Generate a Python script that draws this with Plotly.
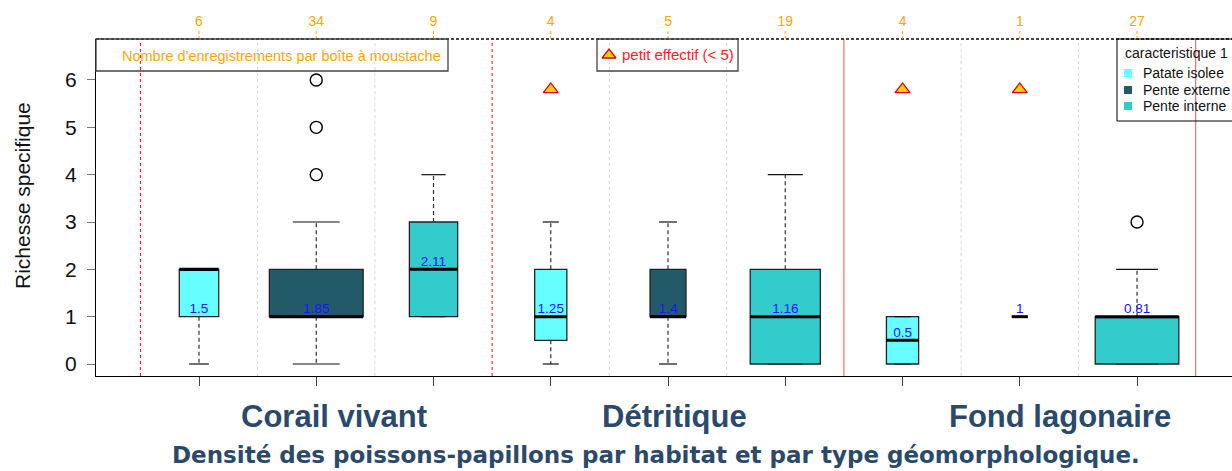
import math
import plotly.graph_objects as go

# ---- data -------------------------------------------------------------
groups = ["Corail vivant", "Détritique", "Fond lagonaire"]
types = ["Patate isolee", "Pente externe", "Pente interne"]
type_colors = ["#66FFFF", "#235A6A", "#33CCCC"]

# one box per (habitat, type), in plotting order
box_group = [0, 0, 0, 1, 1, 1, 2, 2, 2]
box_type = [0, 1, 2, 0, 1, 2, 0, 1, 2]
n_obs = [6, 34, 9, 4, 5, 19, 4, 1, 27]
q1 = [1, 1, 1, 0.5, 1, 0, 0, 1, 0]
median = [2, 1, 2, 1, 1, 1, 0.5, 1, 1]
q3 = [2, 2, 3, 2, 2, 2, 1, 1, 1]
whisker_low = [0, 0, 1, 0, 0, 0, 0, 1, 0]
whisker_high = [2, 3, 4, 3, 3, 4, 1, 1, 2]
outliers = [[], [4, 5, 6], [], [], [], [], [], [], [3]]
means = [1.5, 1.85, 2.11, 1.25, 1.4, 1.16, 0.5, 1, 0.81]
mean_label_base = [1, 1, 2, 1, 1, 1, 0.5, 1, 1]
small_n_limit = 5
y_ticks = [0, 1, 2, 3, 4, 5, 6]

# ---- geometry ---------------------------------------------------------
W, H = 1232, 471
L, R_EDGE, T, B = 96, 1232, 39, 376
X_RANGE = [0.1215, 9.81]
Y_RANGE = [-0.2535, 6.866]
FLAG_Y = 5.8
FONT = "Liberation Sans, Arial, sans-serif"
TITLE_FONT = "DejaVu Sans, Liberation Sans, sans-serif"
TITLE_COLOR = "#2B4A6B"


def px(xp):
    return (xp - L) / (R_EDGE - L)


def py(yp):
    return (B - yp) / (B - T)


def note(text, xp, yp, size, color, xanchor="center", family=FONT, **kw):
    return dict(text=text, xref="paper", yref="paper", x=px(xp), y=py(yp),
                xanchor=xanchor, yanchor="middle", showarrow=False,
                font=dict(family=family, size=size, color=color), **kw)


positions = [i + 1 for i in range(len(n_obs))]
n_max = max(n_obs)
widths = [0.8 * math.sqrt(n / n_max) for n in n_obs]

fig = go.Figure()

# boxes (whiskers drawn separately, dashed)
for i, x in enumerate(positions):
    fig.add_trace(go.Box(
        x=[x], q1=[q1[i]], median=[median[i]], q3=[q3[i]],
        lowerfence=[q1[i]], upperfence=[q3[i]],
        width=widths[i], fillcolor=type_colors[box_type[i]],
        line=dict(color="#222222", width=1.3),
        name=f"{groups[box_group[i]]} - {types[box_type[i]]}",
        showlegend=False, boxpoints=False, hoverinfo="skip",
    ))

# dashed whiskers
wx, wy = [], []
for i, x in enumerate(positions):
    if whisker_high[i] > q3[i]:
        wx += [x, x, None]
        wy += [q3[i], whisker_high[i], None]
    if whisker_low[i] < q1[i]:
        wx += [x, x, None]
        wy += [q1[i], whisker_low[i], None]
fig.add_trace(go.Scatter(x=wx, y=wy, mode="lines", showlegend=False,
                         line=dict(color="#333333", width=1.2, dash="4px,3px"),
                         hoverinfo="skip"))

# whisker caps (half the box width)
cx, cy = [], []
for i, x in enumerate(positions):
    hw = widths[i] / 4
    for v in (whisker_low[i], whisker_high[i]):
        cx += [x - hw, x + hw, None]
        cy += [v, v, None]
fig.add_trace(go.Scatter(x=cx, y=cy, mode="lines", showlegend=False,
                         line=dict(color="#111111", width=1.2), hoverinfo="skip"))

# thick median bars
mx, my = [], []
for i, x in enumerate(positions):
    hw = widths[i] / 2
    mx += [x - hw, x + hw, None]
    my += [median[i], median[i], None]
fig.add_trace(go.Scatter(x=mx, y=my, mode="lines", showlegend=False,
                         line=dict(color="#000000", width=3), hoverinfo="skip"))

# outliers
ox, oy = [], []
for i, x in enumerate(positions):
    for v in outliers[i]:
        ox.append(x)
        oy.append(v)
fig.add_trace(go.Scatter(x=ox, y=oy, mode="markers", showlegend=False,
                         marker=dict(symbol="circle-open", size=12,
                                     color="#000000", line=dict(width=1.4))))

# mean values
fig.add_trace(go.Scatter(
    x=positions, y=mean_label_base, mode="text", showlegend=False,
    text=[f"{m:g}" for m in means], textposition="top center",
    textfont=dict(family=FONT, size=13.5, color="#1515FF"), hoverinfo="skip"))

# small sample warning
tx = [x for x, n in zip(positions, n_obs) if n < small_n_limit]
fig.add_trace(go.Scatter(
    x=tx, y=[FLAG_Y] * len(tx), mode="markers", showlegend=False, cliponaxis=False,
    marker=dict(symbol="triangle-up", size=13, color="#FFCC00",
                line=dict(color="#E00000", width=1.3))))

# warning key marker
fig.add_trace(go.Scatter(
    x=[X_RANGE[0] + (609 - L) / (R_EDGE - L) * (X_RANGE[1] - X_RANGE[0])],
    y=[Y_RANGE[1] - (55 - T) / (B - T) * (Y_RANGE[1] - Y_RANGE[0])],
    mode="markers", showlegend=False, cliponaxis=False,
    marker=dict(symbol="triangle-up", size=12, color="#FFCC00",
                line=dict(color="#E00000", width=1.3))))

# counts on top axis
fig.add_trace(go.Scatter(x=positions, y=[None] * len(positions), xaxis="x2",
                         showlegend=False, hoverinfo="skip"))

shapes = []
# separators between boxes / habitats
for k in range(len(positions) + 1):
    xv = k + 0.5
    if k in (0, 3):
        ln = dict(color="#FF0000", width=1, dash="dot")
    elif k in (6, 9):
        ln = dict(color="#F07878", width=1.3)
    else:
        ln = dict(color="#D6D6D6", width=1, dash="dot")
    shapes.append(dict(type="line", xref="x", yref="paper", x0=xv, x1=xv,
                       y0=0, y1=1, line=ln, layer="below"))

# dashed top frame line
shapes.append(dict(type="line", xref="paper", yref="paper", x0=0, x1=1, y0=1, y1=1,
                   line=dict(color="#444444", width=2, dash="3px,2px")))
# dashed orange ticks on top axis
for x in positions:
    shapes.append(dict(type="line", xref="x", yref="paper", x0=x, x1=x,
                       y0=1, y1=py(29), line=dict(color="#FFA500", width=1, dash="3px,2px")))

# key boxes
shapes.append(dict(type="rect", xref="paper", yref="paper", x0=px(96), x1=px(448),
                   y0=py(71), y1=py(39), line=dict(color="#444444", width=1.3)))
shapes.append(dict(type="rect", xref="paper", yref="paper", x0=px(597), x1=px(738),
                   y0=py(71), y1=py(39), line=dict(color="#444444", width=1.3)))
shapes.append(dict(type="rect", xref="paper", yref="paper", x0=px(1117), x1=px(1245),
                   y0=py(121), y1=py(39), fillcolor="rgba(255,255,255,0)",
                   line=dict(color="#000000", width=1)))
legend_rows = [73, 90, 106]
for k, c in enumerate(type_colors):
    shapes.append(dict(type="rect", xref="paper", yref="paper",
                       x0=px(1124), x1=px(1132), y0=py(legend_rows[k] + 4),
                       y1=py(legend_rows[k] - 4), fillcolor=c, line=dict(width=0)))

annotations = [
    note("Nombre d'enregistrements par boîte à moustache", 281, 56, 14.5, "#FFA500"),
    note("petit effectif (< 5)", 620, 55, 15, "#FF2020", xanchor="left"),
    note("caracteristique 1", 1123, 53, 14, "#111111", xanchor="left"),
    note("Richesse specifique", 22, 196, 21, "#111111", textangle=-90),
    note("<b>Densité des poissons-papillons par habitat et par type géomorphologique.</b>",
         656, 455, 23, TITLE_COLOR, family=TITLE_FONT),
]
for k, t in enumerate(types):
    annotations.append(note(t, 1141, legend_rows[k], 14, "#111111", xanchor="left"))
group_label_px = [334, 674, 1060]
for g, xp in zip(groups, group_label_px):
    annotations.append(note(f"<b>{g}</b>", xp, 416, 31, TITLE_COLOR))

fig.update_layout(
    width=W, height=H, margin=dict(l=L, r=W - R_EDGE, t=T, b=H - B),
    paper_bgcolor="white", plot_bgcolor="white", boxmode="overlay",
    font=dict(family=FONT), shapes=shapes, annotations=annotations,
    xaxis=dict(range=X_RANGE, tickvals=positions, ticktext=[""] * len(positions),
               ticks="outside", ticklen=9, tickcolor="#444444", showgrid=False,
               zeroline=False, showline=True, linecolor="#000000", linewidth=1.3),
    xaxis2=dict(range=X_RANGE, overlaying="x", side="top", tickvals=positions,
                ticktext=[str(n) for n in n_obs], ticks="outside", ticklen=6,
                tickcolor="rgba(0,0,0,0)", showgrid=False, zeroline=False,
                showline=False, tickfont=dict(family=FONT, size=14, color="#FFA500")),
    yaxis=dict(range=Y_RANGE, tickvals=y_ticks, ticks="outside", ticklen=8,
               tickcolor="#777777", showgrid=False, zeroline=False, showline=True,
               linecolor="#000000", linewidth=1.3, ticklabelstandoff=6,
               tickfont=dict(family=FONT, size=21, color="#111111")),
)

fig.write_html("out.html")
